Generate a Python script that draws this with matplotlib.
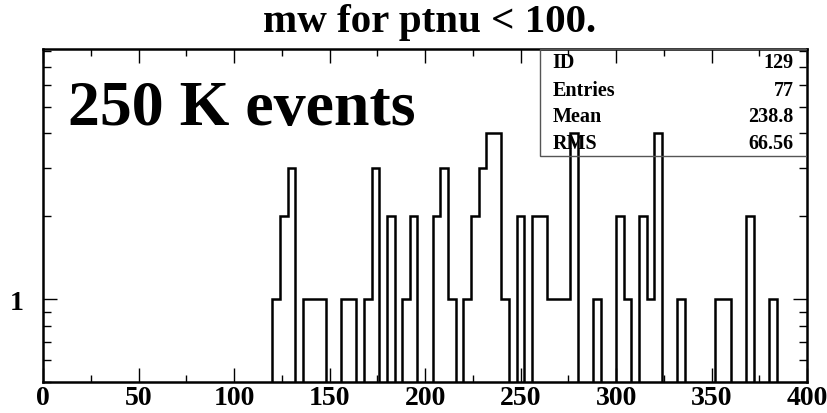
import matplotlib
matplotlib.use("Agg")
import matplotlib.pyplot as plt
import numpy as np
from matplotlib.patches import Rectangle
from matplotlib.ticker import MultipleLocator, FixedLocator, NullFormatter

# histogram contents (bin width 4, range 0-400), only non-empty bins listed
bin_lo = [120, 124, 128, 136, 140, 144, 156, 160, 168, 172, 180, 188, 192,
          204, 208, 212, 220, 224, 228, 232, 236, 240, 248, 256, 260, 264,
          268, 272, 276, 288, 300, 304, 312, 316, 320, 332, 352, 356, 368, 380]
bin_counts = [1, 2, 3, 1, 1, 1, 1, 1, 1, 3, 2, 1, 2,
              2, 3, 1, 1, 2, 3, 4, 4, 1, 2, 2, 2, 1,
              1, 1, 4, 1, 2, 1, 2, 1, 4, 1, 1, 1, 2, 1]
stat_names = ["ID", "Entries", "Mean", "RMS"]
stat_values = ["129", "77", "238.8", "66.56"]
title = "mw for ptnu < 100."
note = "250 K events"

edges = np.arange(0, 404, 4)
counts = np.zeros(len(edges) - 1)
for lo, c in zip(bin_lo, bin_counts):
    counts[lo // 4] = c

floor = 1e-3
vals = np.where(counts > 0, counts, floor)

serif = "Liberation Serif"
plt.rcParams["font.family"] = serif
plt.rcParams["font.weight"] = "bold"

fig = plt.figure(figsize=(8.27, 4.14), dpi=100)
ax = fig.add_axes([0.052, 0.075, 0.924, 0.804])

ax.stairs(vals, edges, baseline=floor, color="black", lw=1.8)

ax.set_yscale("log")
ax.set_xlim(0, 400)
ax.set_ylim(0.5, 8.1)

ax.xaxis.set_major_locator(MultipleLocator(50))
ax.xaxis.set_minor_locator(MultipleLocator(25))
ax.yaxis.set_major_locator(FixedLocator([1]))
ax.yaxis.set_major_formatter(lambda v, p: "1")
ax.yaxis.set_minor_locator(FixedLocator([0.5, 0.6, 0.7, 0.8, 0.9, 2, 3, 4, 5, 6, 7, 8]))
ax.yaxis.set_minor_formatter(NullFormatter())

ax.tick_params(which="both", direction="in", top=True, right=True, width=1.0,
               labelsize=20, colors="black")
ax.tick_params(axis="x", which="major", length=10, pad=2)
ax.tick_params(axis="x", which="minor", length=5)
ax.tick_params(axis="y", which="major", length=10, pad=14)
ax.tick_params(axis="y", which="minor", length=6)
for lab in ax.get_xticklabels() + ax.get_yticklabels():
    lab.set_fontweight("bold")
for s in ax.spines.values():
    s.set_linewidth(1.8)

fig.text(0.52, 0.923, title, ha="center", va="baseline", fontsize=29.5,
         fontweight="bold")

ax.text(0.033, 0.775, note, transform=ax.transAxes, fontsize=46,
        fontweight="bold", va="baseline", ha="left")

# stats box (transparent, histogram shows through)
ax.add_patch(Rectangle((0.6505, 0.68), 0.3495, 0.32, transform=ax.transAxes,
                       fill=False, edgecolor="#555555", lw=1.0, zorder=3))
rows_y = [0.961, 0.877, 0.799, 0.718]
for name, val, y in zip(stat_names, stat_values, rows_y):
    ax.text(0.667, y, name, transform=ax.transAxes, fontsize=14.5,
            fontweight="bold", va="center", ha="left", zorder=4)
    ax.text(0.982, y, val, transform=ax.transAxes, fontsize=14.5,
            fontweight="bold", va="center", ha="right", zorder=4)

fig.savefig("out.png", dpi=100)
